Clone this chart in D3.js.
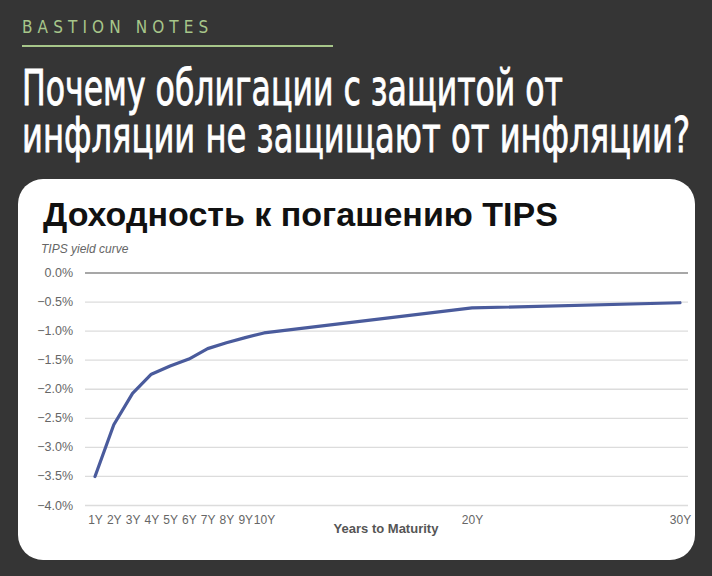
<!DOCTYPE html>
<html>
<head>
<meta charset="utf-8">
<script src="https://cdn.jsdelivr.net/npm/d3@7"></script>
<style>
  html, body { margin: 0; padding: 0; background: #353535; }
  svg { display: block; }
</style>
</head>
<body>
<svg id="chart" width="712" height="576"></svg>
<script>
// ---- data ----
const maturities = [1, 2, 3, 4, 5, 6, 7, 8, 9, 10, 20, 30];
const tickLabels = ["1Y", "2Y", "3Y", "4Y", "5Y", "6Y", "7Y", "8Y", "9Y", "10Y", "20Y", "30Y"];
const yields = [-3.51, -2.62, -2.08, -1.75, -1.61, -1.49, -1.31, -1.21, -1.12, -1.04, -0.61, -0.52];
const yTicks = [0, -0.5, -1.0, -1.5, -2.0, -2.5, -3.0, -3.5, -4.0];

const brand = "BASTION NOTES";
const headline = ["Почему облигации с защитой от", "инфляции не защищают от инфляции?"];
const chartTitle = "Доходность к погашению TIPS";
const chartSubtitle = "TIPS yield curve";
const xAxisTitle = "Years to Maturity";

const svg = d3.select("#chart");
const W = 712, H = 576;

svg.append("rect").attr("width", W).attr("height", H).attr("fill", "#353535");

// brand
svg.append("text")
  .attr("x", 22).attr("y", 33)
  .attr("fill", "#a7c68a")
  .style("font-family", "'Liberation Sans Narrow', 'DejaVu Sans Condensed', sans-serif")
  .style("font-size", "17px")
  .style("letter-spacing", "5.1px")
  .text(brand);
svg.append("line")
  .attr("x1", 22).attr("x2", 333).attr("y1", 46).attr("y2", 46)
  .attr("stroke", "#a7c68a").attr("stroke-width", 2);

// headline (tall condensed look: smaller font stretched vertically)
const headY = [105, 152];
const headW = [541, 668];
const stretchY = 1.38;
headline.forEach((t, i) => {
  svg.append("text")
    .attr("transform", `translate(22,${headY[i]}) scale(1,${stretchY})`)
    .attr("x", 0).attr("y", 0)
    .attr("fill", "#ffffff")
    .attr("stroke", "#ffffff")
    .attr("stroke-width", 0.6)
    .attr("textLength", headW[i])
    .attr("lengthAdjust", "spacingAndGlyphs")
    .style("font-family", "'Liberation Sans Narrow', 'DejaVu Sans Condensed', sans-serif")
    .style("font-size", "36px")
    .text(t);
});

// card
svg.append("rect")
  .attr("x", 18).attr("y", 179).attr("width", 677).attr("height", 381)
  .attr("rx", 25).attr("ry", 25)
  .attr("fill", "#ffffff");

svg.append("text")
  .attr("x", 43).attr("y", 226)
  .attr("fill", "#111")
  .style("font-family", "'Liberation Sans', Arial, sans-serif")
  .style("font-size", "34px")
  .style("font-weight", "bold")
  .text(chartTitle);

svg.append("text")
  .attr("x", 41).attr("y", 253)
  .attr("fill", "#666")
  .style("font-family", "'Liberation Sans', Arial, sans-serif")
  .style("font-size", "12px")
  .style("font-style", "italic")
  .text(chartSubtitle);

// scales
const x = d3.scaleLinear().domain([1, 10, 30]).range([95, 264, 680]);
const y = d3.scaleLinear().domain([0, -4]).range([272.5, 505]);
const gridX0 = 85, gridX1 = 688;

// y axis (grid + labels)
const yAxis = d3.axisLeft(y).tickValues(yTicks)
  .tickFormat(d => d3.format(".1f")(d) + "%")
  .tickSize(-(gridX1 - gridX0)).tickPadding(12);
const gy = svg.append("g").attr("transform", `translate(${gridX0},0)`).call(yAxis);
gy.select(".domain").remove();
gy.selectAll(".tick line")
  .attr("stroke", d => d === 0 ? "#8a8a8a" : "#dcdcdc")
  .attr("stroke-width", d => d === 0 ? 1.6 : 1.3);
gy.selectAll(".tick text")
  .attr("fill", "#666")
  .style("font-family", "'Liberation Sans', Arial, sans-serif")
  .style("font-size", "12.5px");

// x axis labels
const xAxis = d3.axisBottom(x).tickValues(maturities)
  .tickFormat((d, i) => tickLabels[i]).tickSize(0).tickPadding(0);
const gx = svg.append("g").attr("transform", "translate(0,515)").call(xAxis);
gx.select(".domain").remove();
gx.selectAll(".tick text")
  .attr("fill", "#666")
  .style("font-family", "'Liberation Sans', Arial, sans-serif")
  .style("font-size", "12px");

svg.append("text")
  .attr("x", 386).attr("y", 533)
  .attr("text-anchor", "middle")
  .attr("fill", "#555")
  .style("font-family", "'Liberation Sans', Arial, sans-serif")
  .style("font-size", "13px")
  .style("font-weight", "bold")
  .text(xAxisTitle);

// line
const line = d3.line()
  .x((d, i) => x(maturities[i]))
  .y(d => y(d));
svg.append("path")
  .datum(yields)
  .attr("d", line)
  .attr("fill", "none")
  .attr("stroke", "#4a5b9c")
  .attr("stroke-width", 3.2)
  .attr("stroke-linejoin", "round")
  .attr("stroke-linecap", "round");
</script>
</body>
</html>
